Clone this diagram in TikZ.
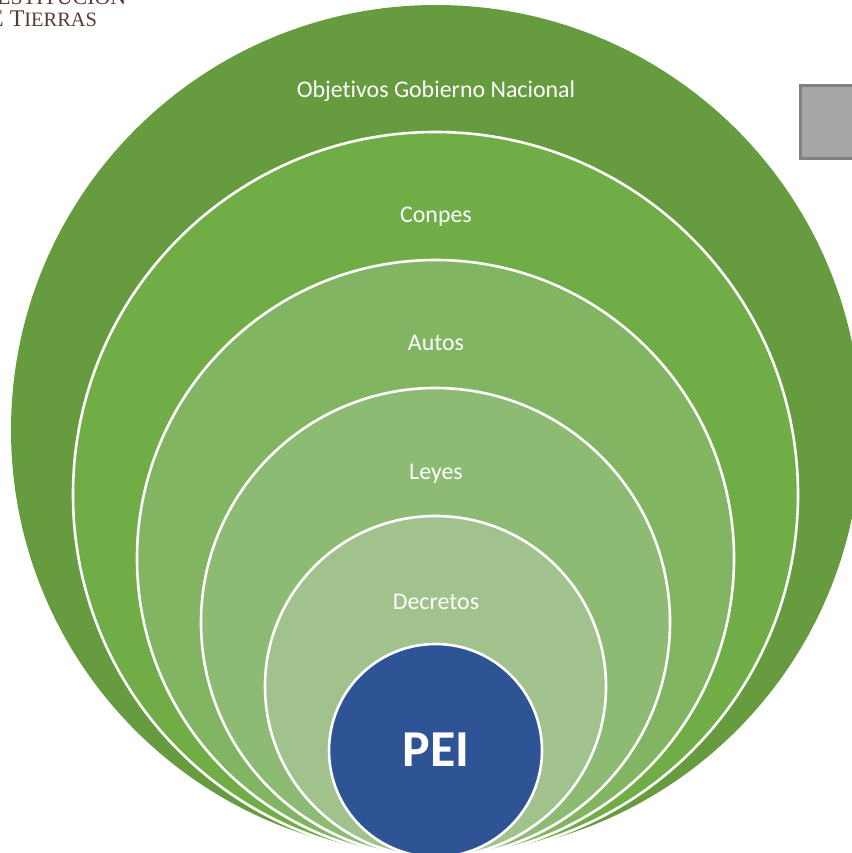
\documentclass[tikz,border=0pt]{standalone}
\usepackage{fontspec}
\setmainfont[Ligatures=NoCommon]{Carlito}
\newfontfamily\logofont{Liberation Serif}
\definecolor{ringa}{HTML}{669C3F}
\definecolor{ringb}{HTML}{70AD47}
\definecolor{ringc}{HTML}{82B562}
\definecolor{ringd}{HTML}{8DBB73}
\definecolor{ringe}{HTML}{A1C28D}
\definecolor{peiblue}{HTML}{2F5496}
\definecolor{logobrown}{HTML}{5A3A33}
\newcommand{\logocap}[1]{{\fontsize{24}{26}\selectfont #1}}
\newcommand{\logosmall}[1]{{\fontsize{20.5}{26}\selectfont #1}}
\tikzset{
  ring/.style={circle,draw=white,line width=2.6bp,inner sep=0pt,outer sep=0pt},
  ringlabel/.style={text=white,font=\fontsize{24}{26}\selectfont,inner sep=0pt,anchor=center},
  logotext/.style={text=logobrown,font=\logofont,inner sep=0pt,anchor=base west}
}
\begin{document}
\begin{tikzpicture}[x=1bp,y=-1bp]
\useasboundingbox (0,0) rectangle (852,853);
\clip (0,0) rectangle (852,853);
\node[logotext] (logoa) at (-3,4.5) {\fontsize{22}{26}\selectfont ESTITUCIÓN};
\node[logotext] (logob) at (-11,26.5) {\logocap{E T}\logosmall{IERRAS}};
\node[circle,fill=ringa,inner sep=0pt,outer sep=0pt,minimum size=850bp] (a) at (436,430) {};
\node[ring,fill=ringb,minimum size=725bp] (b) at (435.5,494.5) {};
\node[ring,fill=ringc,minimum size=597bp] (c) at (435.5,558.5) {};
\node[ring,fill=ringd,minimum size=469bp] (d) at (435.5,622.5) {};
\node[ring,fill=ringe,minimum size=341bp] (e) at (435.5,686.5) {};
\node[ring,fill=peiblue,minimum size=213bp] (p) at (435.5,750.5) {};
\node[ringlabel] (la) at (436,91) {Objetivos Gobierno Nacional};
\node[ringlabel] (lb) at (436,216.5) {Conpes};
\node[ringlabel] (lc) at (436,342.5) {Autos};
\node[ringlabel] (ld) at (436,473.5) {Leyes};
\node[ringlabel] (le) at (436,601.5) {Decretos};
\node[text=white,font=\bfseries\fontsize{52}{56}\selectfont,inner sep=0pt] (lp) at (436,750) {PEI};
\node[rectangle,fill=black!35,draw=black!50,line width=2.5bp,inner sep=0pt,outer sep=0pt,minimum width=100bp,minimum height=73bp,anchor=north west] (box) at (800.5,85.5) {};
\end{tikzpicture}
\end{document}
